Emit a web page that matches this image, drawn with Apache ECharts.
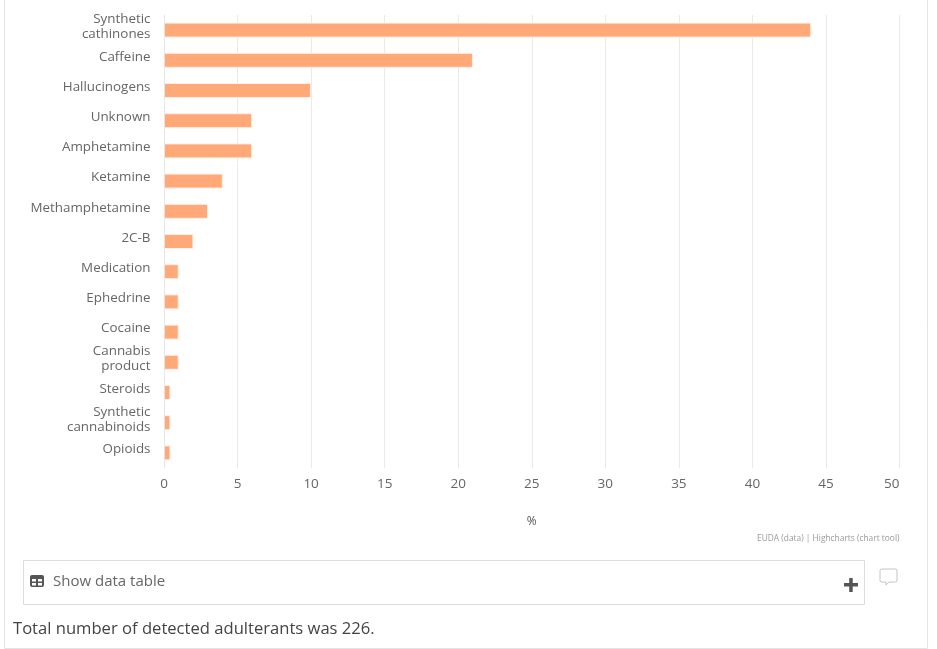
<!DOCTYPE html>
<html><head><meta charset="utf-8">
<style>html,body{margin:0;padding:0;background:#fff}#c{width:937px;height:649px}</style>
<script src="https://cdn.jsdelivr.net/npm/echarts@6/dist/echarts.min.js"></script>
</head><body><div id="c"></div>
<script>
const categories = ["Synthetic\ncathinones","Caffeine","Hallucinogens","Unknown","Amphetamine","Ketamine","Methamphetamine","2C-B","Medication","Ephedrine","Cocaine","Cannabis\nproduct","Steroids","Synthetic\ncannabinoids","Opioids"];
const values = [44,21,10,6,6,4,3,2,1,1,1,1,0.44,0.44,0.44];
const tickInterval = 5;
const axisMax = 50;
const font = '"Open Sans","Noto Sans",sans-serif';
const chart = echarts.init(document.getElementById('c'), null, {renderer:'canvas'});
chart.setOption({
  animation:false,
  backgroundColor:'#fff',
  grid:[
    {left:164,top:15,width:735.5,height:453},
    {left:164,top:11.5,width:735.5,height:453}
  ],
  xAxis:[
    {type:'value',gridIndex:0,min:0,max:axisMax,interval:tickInterval,
     name:'%',nameLocation:'middle',nameGap:48,
     nameTextStyle:{color:'#555',fontFamily:font,fontSize:12},
     axisLine:{show:false},axisTick:{show:false},
     axisLabel:{color:'#666',fontFamily:font,fontSize:13.5,margin:9,alignMaxLabel:'right'},
     splitLine:{show:true,lineStyle:{color:'#e9e9e9',width:1}}},
    {type:'value',gridIndex:1,min:0,max:axisMax,show:false}
  ],
  yAxis:[
    {type:'category',gridIndex:0,inverse:true,data:categories,z:3,
     axisLine:{show:true,lineStyle:{color:'#e6e6e6'}},axisTick:{show:false},
     axisLabel:{show:false}},
    {type:'category',gridIndex:1,inverse:true,data:categories,
     axisLine:{show:false},axisTick:{show:false},splitLine:{show:false},
     axisLabel:{color:'#666',fontFamily:font,fontSize:13.4,lineHeight:15,margin:13.5,align:'right',interval:0}}
  ],
  series:[{type:'bar',xAxisIndex:0,yAxisIndex:0,data:values,barWidth:15,z:2,silent:true,
    itemStyle:{color:'#ffa878',borderColor:'#fff0e8',borderWidth:1}}],
  graphic:[
    {type:'rect',silent:true,z:-1,shape:{x:4.5,y:-5,width:923,height:653.5},style:{fill:'none',stroke:'#e4e4e4',lineWidth:1}},
    {type:'text',left:757,top:535,style:{text:'EUDA (data) | Highcharts (chart tool)',fill:'#999',font:'8.4px '+font}},
    {type:'rect',silent:true,shape:{x:23.5,y:560.5,width:841,height:44},style:{fill:'#fff',stroke:'#dcdcdc',lineWidth:1}},
    {type:'rect',silent:true,shape:{x:30,y:575,width:14,height:12,r:2},style:{fill:'#555'}},
    {type:'rect',silent:true,shape:{x:32,y:579,width:4,height:2.5},style:{fill:'#fff'}},
    {type:'rect',silent:true,shape:{x:38,y:579,width:4,height:2.5},style:{fill:'#fff'}},
    {type:'rect',silent:true,shape:{x:32,y:583,width:4,height:2.5},style:{fill:'#fff'}},
    {type:'rect',silent:true,shape:{x:38,y:583,width:4,height:2.5},style:{fill:'#fff'}},
    {type:'text',left:53,top:574,style:{text:'Show data table',fill:'#666',font:'15px '+font}},
    {type:'rect',silent:true,shape:{x:844,y:583,width:14,height:3.5},style:{fill:'#555'}},
    {type:'rect',silent:true,shape:{x:849.2,y:578,width:3.5,height:14},style:{fill:'#555'}},
    {type:'polygon',silent:true,shape:{points:[[881,569],[896,569],[897,570],[897,581],[896,582],[889,582],[886,585],[886,582],[881,582],[880,581],[880,570]]},style:{fill:'#fff',stroke:'#c4c4c4',lineWidth:1}},
    {type:'text',left:13,top:621,style:{text:'Total number of detected adulterants was 226.',fill:'#444',font:'16.6px '+font}}
  ]
});
</script></body></html>
